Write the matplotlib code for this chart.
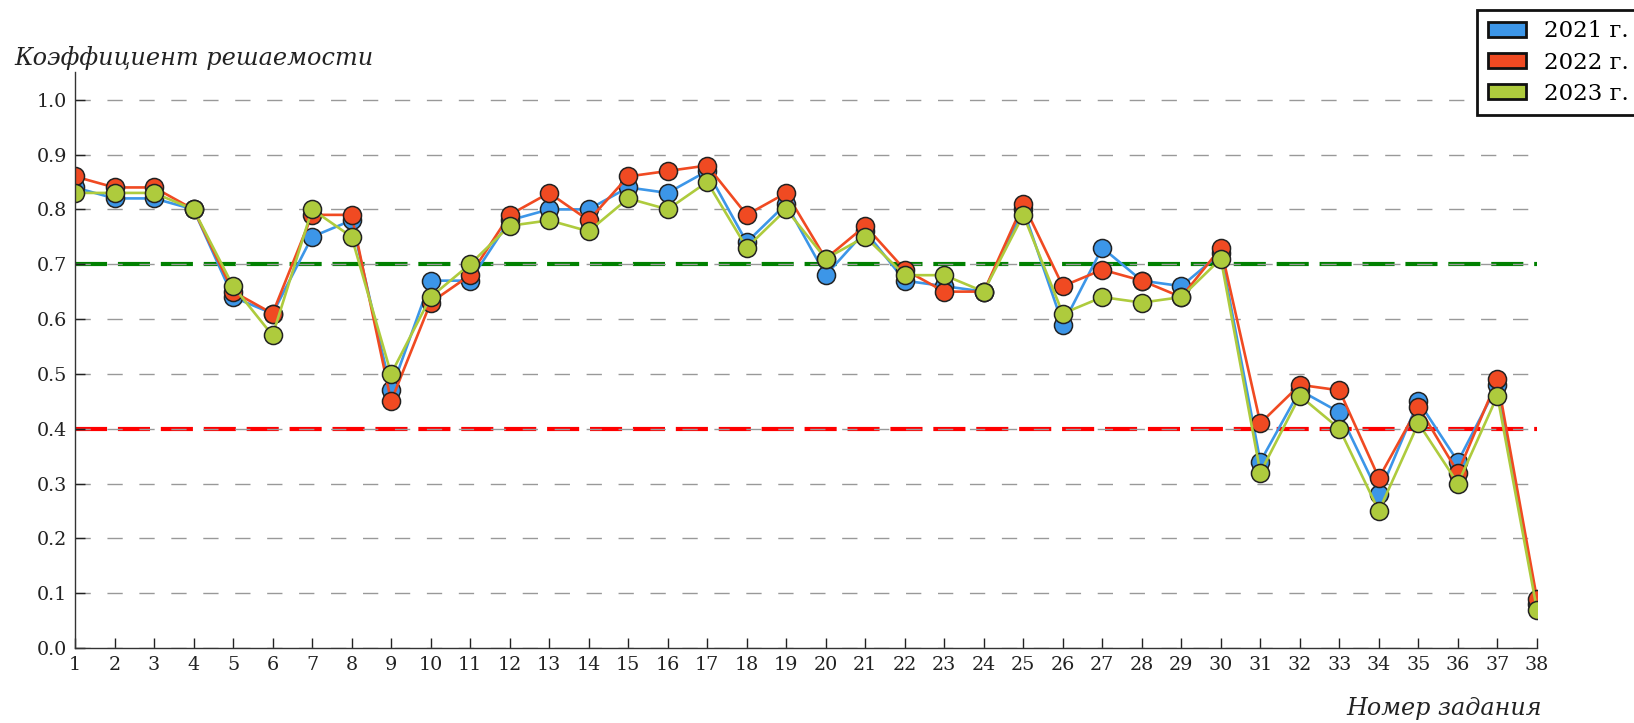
import numpy as np
import matplotlib
matplotlib.use("Agg")
import matplotlib.pyplot as plt
from matplotlib.patches import Patch

tasks = list(range(1, 39))
y2021 = [0.84, 0.82, 0.82, 0.80, 0.64, 0.61, 0.75, 0.78, 0.47, 0.67,
         0.67, 0.78, 0.80, 0.80, 0.84, 0.83, 0.87, 0.74, 0.81, 0.68,
         0.76, 0.67, 0.66, 0.65, 0.80, 0.59, 0.73, 0.67, 0.66, 0.72,
         0.34, 0.47, 0.43, 0.28, 0.45, 0.34, 0.48, 0.08]
y2022 = [0.86, 0.84, 0.84, 0.80, 0.65, 0.61, 0.79, 0.79, 0.45, 0.63,
         0.68, 0.79, 0.83, 0.78, 0.86, 0.87, 0.88, 0.79, 0.83, 0.71,
         0.77, 0.69, 0.65, 0.65, 0.81, 0.66, 0.69, 0.67, 0.64, 0.73,
         0.41, 0.48, 0.47, 0.31, 0.44, 0.32, 0.49, 0.09]
y2023 = [0.83, 0.83, 0.83, 0.80, 0.66, 0.57, 0.80, 0.75, 0.50, 0.64,
         0.70, 0.77, 0.78, 0.76, 0.82, 0.80, 0.85, 0.73, 0.80, 0.71,
         0.75, 0.68, 0.68, 0.65, 0.79, 0.61, 0.64, 0.63, 0.64, 0.71,
         0.32, 0.46, 0.40, 0.25, 0.41, 0.30, 0.46, 0.07]
years = ["2021 г.", "2022 г.", "2023 г."]
colors = ["#3c96e8", "#f04a22", "#aecb3d"]
upper_level = 0.7
lower_level = 0.4

plt.rcParams['font.family'] = 'DejaVu Serif'

fig = plt.figure(figsize=(16.34, 7.23), dpi=100)
ax = fig.add_axes([0.0459, 0.1037, 0.8947, 0.7963])

# threshold lines
ax.axhline(upper_level, color='#008000', linewidth=3, linestyle=(0, (7.7, 2.6)), zorder=1)
ax.axhline(lower_level, color='#ff0000', linewidth=3, linestyle=(0, (7.7, 2.6)), zorder=1)

for ys, c in zip([y2021, y2022, y2023], colors):
    ax.plot(tasks, ys, color=c, linewidth=1.9, marker='o', markersize=13,
            markerfacecolor=c, markeredgecolor='#222222', markeredgewidth=1.1, zorder=2)

ax.set_axisbelow('line')
ax.yaxis.grid(True, color='#999999', linewidth=1.0, linestyle=(0, (11, 12)))

ax.set_xlim(1, 38)
ax.set_ylim(0, 1.05)
ax.set_xticks(tasks)
ax.set_yticks(np.arange(0, 1.01, 0.1))
ax.set_yticklabels([f"{v:.1f}" for v in np.arange(0, 1.01, 0.1)])

for s in ['top', 'right']:
    ax.spines[s].set_visible(False)
for s in ['left', 'bottom']:
    ax.spines[s].set_linewidth(1.0)
    ax.spines[s].set_color('#333333')

ax.tick_params(direction='in', length=7, width=1, colors='#222222', labelsize=13.8, pad=6)

fig.text(0.0086, 0.92, "Коэффициент решаемости", fontsize=17.3, style='italic',
         ha='left', va='center', color='#222222')
fig.text(0.9437, 0.02, "Номер задания", fontsize=17.2, style='italic',
         ha='right', va='center', color='#222222')

handles = [Patch(facecolor=c, edgecolor='#111111', linewidth=2) for c in colors]
leg = fig.legend(handles, years, loc='upper right', bbox_to_anchor=(1.003, 0.986),
                 borderaxespad=0, fontsize=16.5, fancybox=False, framealpha=1,
                 edgecolor='#111111', handlelength=1.65, handleheight=0.6,
                 borderpad=0.45, labelspacing=0.4, handletextpad=0.8)
leg.get_frame().set_linewidth(2)

fig.savefig("out.png", dpi=100)
